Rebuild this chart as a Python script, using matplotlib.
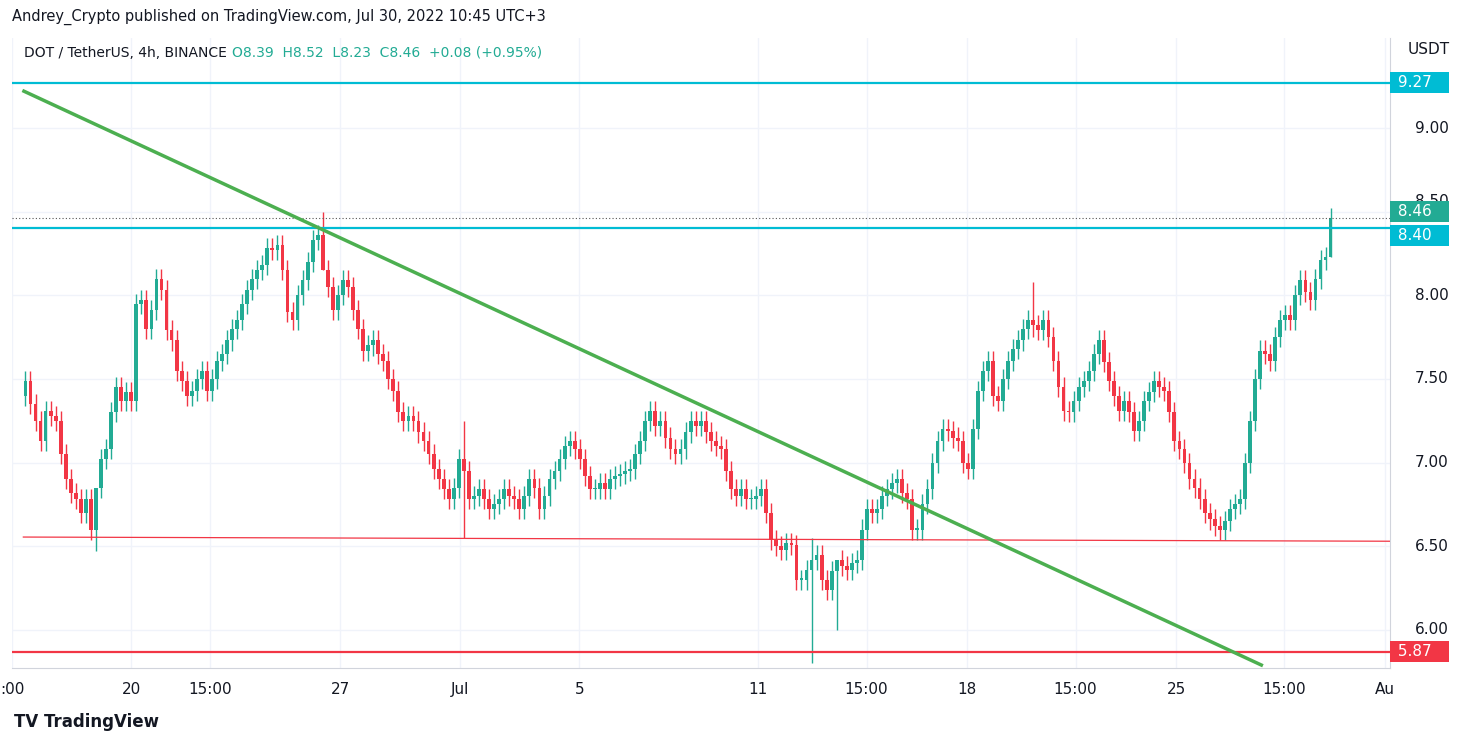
import numpy as np
import matplotlib.pyplot as plt

# DOT/USDT 4h closes, Jun 16 -> Jul 30 2022
first_open = 7.40
closes = [7.49, 7.35, 7.25, 7.13, 7.31, 7.28, 7.25, 7.05, 6.90, 6.82, 6.78, 6.70,
          6.78, 6.60, 6.85, 7.02, 7.08, 7.30, 7.45, 7.37, 7.42, 7.37, 7.95,
          7.97, 7.80, 7.91, 8.10, 8.03, 7.79, 7.73, 7.55, 7.49, 7.40,
          7.43, 7.50, 7.55, 7.43, 7.50, 7.61, 7.65, 7.73, 7.80, 7.85, 7.95, 8.03, 8.10, 8.15,
          8.18, 8.28, 8.27, 8.30, 8.15, 7.90, 7.85, 8.00, 8.09, 8.20, 8.33, 8.36, 8.15, 8.05, 7.91, 8.00,
          8.09, 8.05, 7.91, 7.80, 7.67, 7.70, 7.73, 7.65, 7.61, 7.50, 7.43, 7.30, 7.25, 7.28, 7.25, 7.18,
          7.13, 7.05, 6.96, 6.90, 6.84, 6.78, 6.85, 7.02, 6.95, 6.78, 6.80, 6.84, 6.78, 6.72, 6.75,
          6.78, 6.84, 6.80, 6.78, 6.72, 6.80, 6.90, 6.85, 6.72, 6.80, 6.90, 6.95, 7.02, 7.10,
          7.13, 7.08, 7.02, 6.92, 6.84, 6.84, 6.88, 6.84, 6.90, 6.92, 6.93, 6.95, 6.96, 7.05,
          7.13, 7.25, 7.31, 7.22, 7.25, 7.15, 7.08, 7.05, 7.08, 7.18, 7.25, 7.22, 7.25, 7.18, 7.13, 7.10,
          7.08, 6.95, 6.84, 6.80, 6.84, 6.78, 6.78, 6.80, 6.84, 6.70, 6.54, 6.50, 6.48, 6.52, 6.51, 6.30,
          6.30, 6.36, 6.42, 6.45, 6.30, 6.24, 6.35, 6.42, 6.38, 6.36, 6.40, 6.42, 6.60, 6.72, 6.70, 6.72,
          6.80, 6.84, 6.88, 6.90, 6.82, 6.78, 6.60, 6.60, 6.75, 6.84, 7.00, 7.13, 7.20, 7.19, 7.15, 7.13,
          7.00, 6.96, 7.20, 7.43, 7.55, 7.61, 7.40, 7.37, 7.50, 7.61, 7.68, 7.73, 7.80, 7.85, 7.82, 7.79,
          7.85, 7.75, 7.61, 7.45, 7.31, 7.30, 7.37, 7.45, 7.49, 7.55, 7.65, 7.73, 7.60, 7.49,
          7.40, 7.31, 7.37, 7.30, 7.19, 7.25, 7.37, 7.42, 7.49, 7.45, 7.43, 7.30, 7.13, 7.08,
          7.00, 6.90, 6.85, 6.78, 6.70, 6.66, 6.62, 6.60, 6.65, 6.72, 6.75, 6.78, 7.00, 7.25, 7.50, 7.67,
          7.65, 7.61, 7.75, 7.85, 7.88, 7.85, 8.00, 8.09, 8.02, 7.97, 8.10, 8.21, 8.23, 8.46]
wick = 0.06  # typical wick length
# notable wicks: (day since Jun 20, high, low)
spikes = [(-1.2, 6.70, 6.47), (6.45, 8.50, 8.25), (11.2, 7.25, 6.55), (22.76, 6.55, 5.80),
          (23.55, 6.40, 6.00), (30.2, 8.08, 7.75), (40.17, 8.52, 8.23)]

# levels
res_top, res_mid, sup_low, sup_bottom = 9.27, 8.40, 6.55, 5.87
trend_x = [-3.6, 37.85]   # days since Jun 20 00:00
trend_y = [9.22, 5.79]

tick_pos = [-4.0, 0, 2.625, 7, 11, 15, 21, 24.625, 28, 31.625, 35, 38.625, 42]
tick_lbl = [':00', '20', '15:00', '27', 'Jul', '5', '11', '15:00', '18', '15:00', '25', '15:00', 'Au']

UP, DOWN, CYAN = '#22ab94', '#f23645', '#00bcd4'

n = len(closes)
t = np.linspace(-3.55, 40.17, n)
opens = np.array([first_open] + closes[:-1])
closes = np.array(closes)
highs = np.maximum(opens, closes) + wick
lows = np.minimum(opens, closes) - wick
for d, h, l in spikes:
    i = int(np.argmin(np.abs(t - d)))
    highs[i], lows[i] = max(h, opens[i], closes[i]), min(l, opens[i], closes[i])
up = closes >= opens

fig = plt.figure(figsize=(14.75, 7.46), dpi=100)
ax = fig.add_axes([12 / 1475, 1 - 668 / 746, 1378 / 1475, 630 / 746])
ax.set_xlim(-3.62, 42.16)
ax.set_ylim(9 - (668 - 128) / 167.3, 9 + (128 - 38) / 167.3)

for y in [6.0, 6.5, 7.0, 7.5, 8.0, 8.5, 9.0]:
    ax.axhline(y, color='#f0f3fa', lw=1, zorder=0)
for x in tick_pos:
    ax.axvline(x, color='#f0f3fa', lw=1, zorder=0)

col = np.where(up, UP, DOWN)
w = (t[1] - t[0]) * 0.75
ax.vlines(t, lows, highs, colors=col, lw=1, zorder=2)
ax.bar(t, np.maximum(np.abs(closes - opens), 0.01), bottom=np.minimum(opens, closes),
       width=w, color=col, zorder=3)

ax.axhline(res_top, color=CYAN, lw=1.6, zorder=4)
ax.axhline(res_mid, color=CYAN, lw=1.6, zorder=4)
ax.plot([-3.62, 42.16], [6.555, 6.53], color=DOWN, lw=0.9, zorder=4)
ax.axhline(sup_bottom, color=DOWN, lw=1.6, zorder=4)
ax.axhline(closes[-1], color='#555555', lw=0.8, ls=(0, (1, 2)), zorder=4)
ax.plot(trend_x, trend_y, color='#4caf50', lw=2.5, zorder=5)

ax.set_xticks(tick_pos)
ax.set_xticklabels(tick_lbl, fontsize=11, color='#131722')
ax.tick_params(axis='x', length=0, pad=10)
ax.set_yticks([])
for s in ['top', 'left']:
    ax.spines[s].set_visible(False)
ax.spines['right'].set_color('#d1d4dc')
ax.spines['bottom'].set_color('#d1d4dc')

# right price scale (8.50 sits mostly behind the 8.46 tag, as in the original)
for y in [6.0, 6.5, 7.0, 7.5, 8.0, 8.5, 9.0]:
    dy = 7 if y == 8.5 else 0
    ax.annotate(f'{y:.2f}', xy=(1, y), xycoords=('axes fraction', 'data'), xytext=(18, dy),
                textcoords='offset points', va='center', fontsize=11, color='#131722')
for y, c, dy in [(res_top, CYAN, 0), (closes[-1], UP, 5), (res_mid, CYAN, -5), (sup_bottom, DOWN, 0)]:
    ax.annotate(f' {y:.2f}   ', xy=(1, y), xycoords=('axes fraction', 'data'), xytext=(2, dy),
                textcoords='offset points', va='center', fontsize=11, color='white',
                bbox=dict(boxstyle='square,pad=0.2', fc=c, ec='none'))
fig.text(1408 / 1475, 1 - 50 / 746, 'USDT', fontsize=11, color='#131722', va='center')

fig.text(12 / 1475, 1 - 17 / 746, 'Andrey_Crypto published on TradingView.com, Jul 30, 2022 10:45 UTC+3',
         fontsize=10.5, color='#131722', va='center')
fig.text(24 / 1475, 1 - 53 / 746, 'DOT / TetherUS, 4h, BINANCE', fontsize=10, color='#131722', va='center')
fig.text(232 / 1475, 1 - 53 / 746, 'O8.39  H8.52  L8.23  C8.46  +0.08 (+0.95%)', fontsize=10,
         color=UP, va='center')
fig.text(14 / 1475, 1 - 722 / 746, 'TV TradingView', fontsize=12, color='#131722', va='center',
         fontweight='bold')

fig.savefig('out.png', dpi=100)
